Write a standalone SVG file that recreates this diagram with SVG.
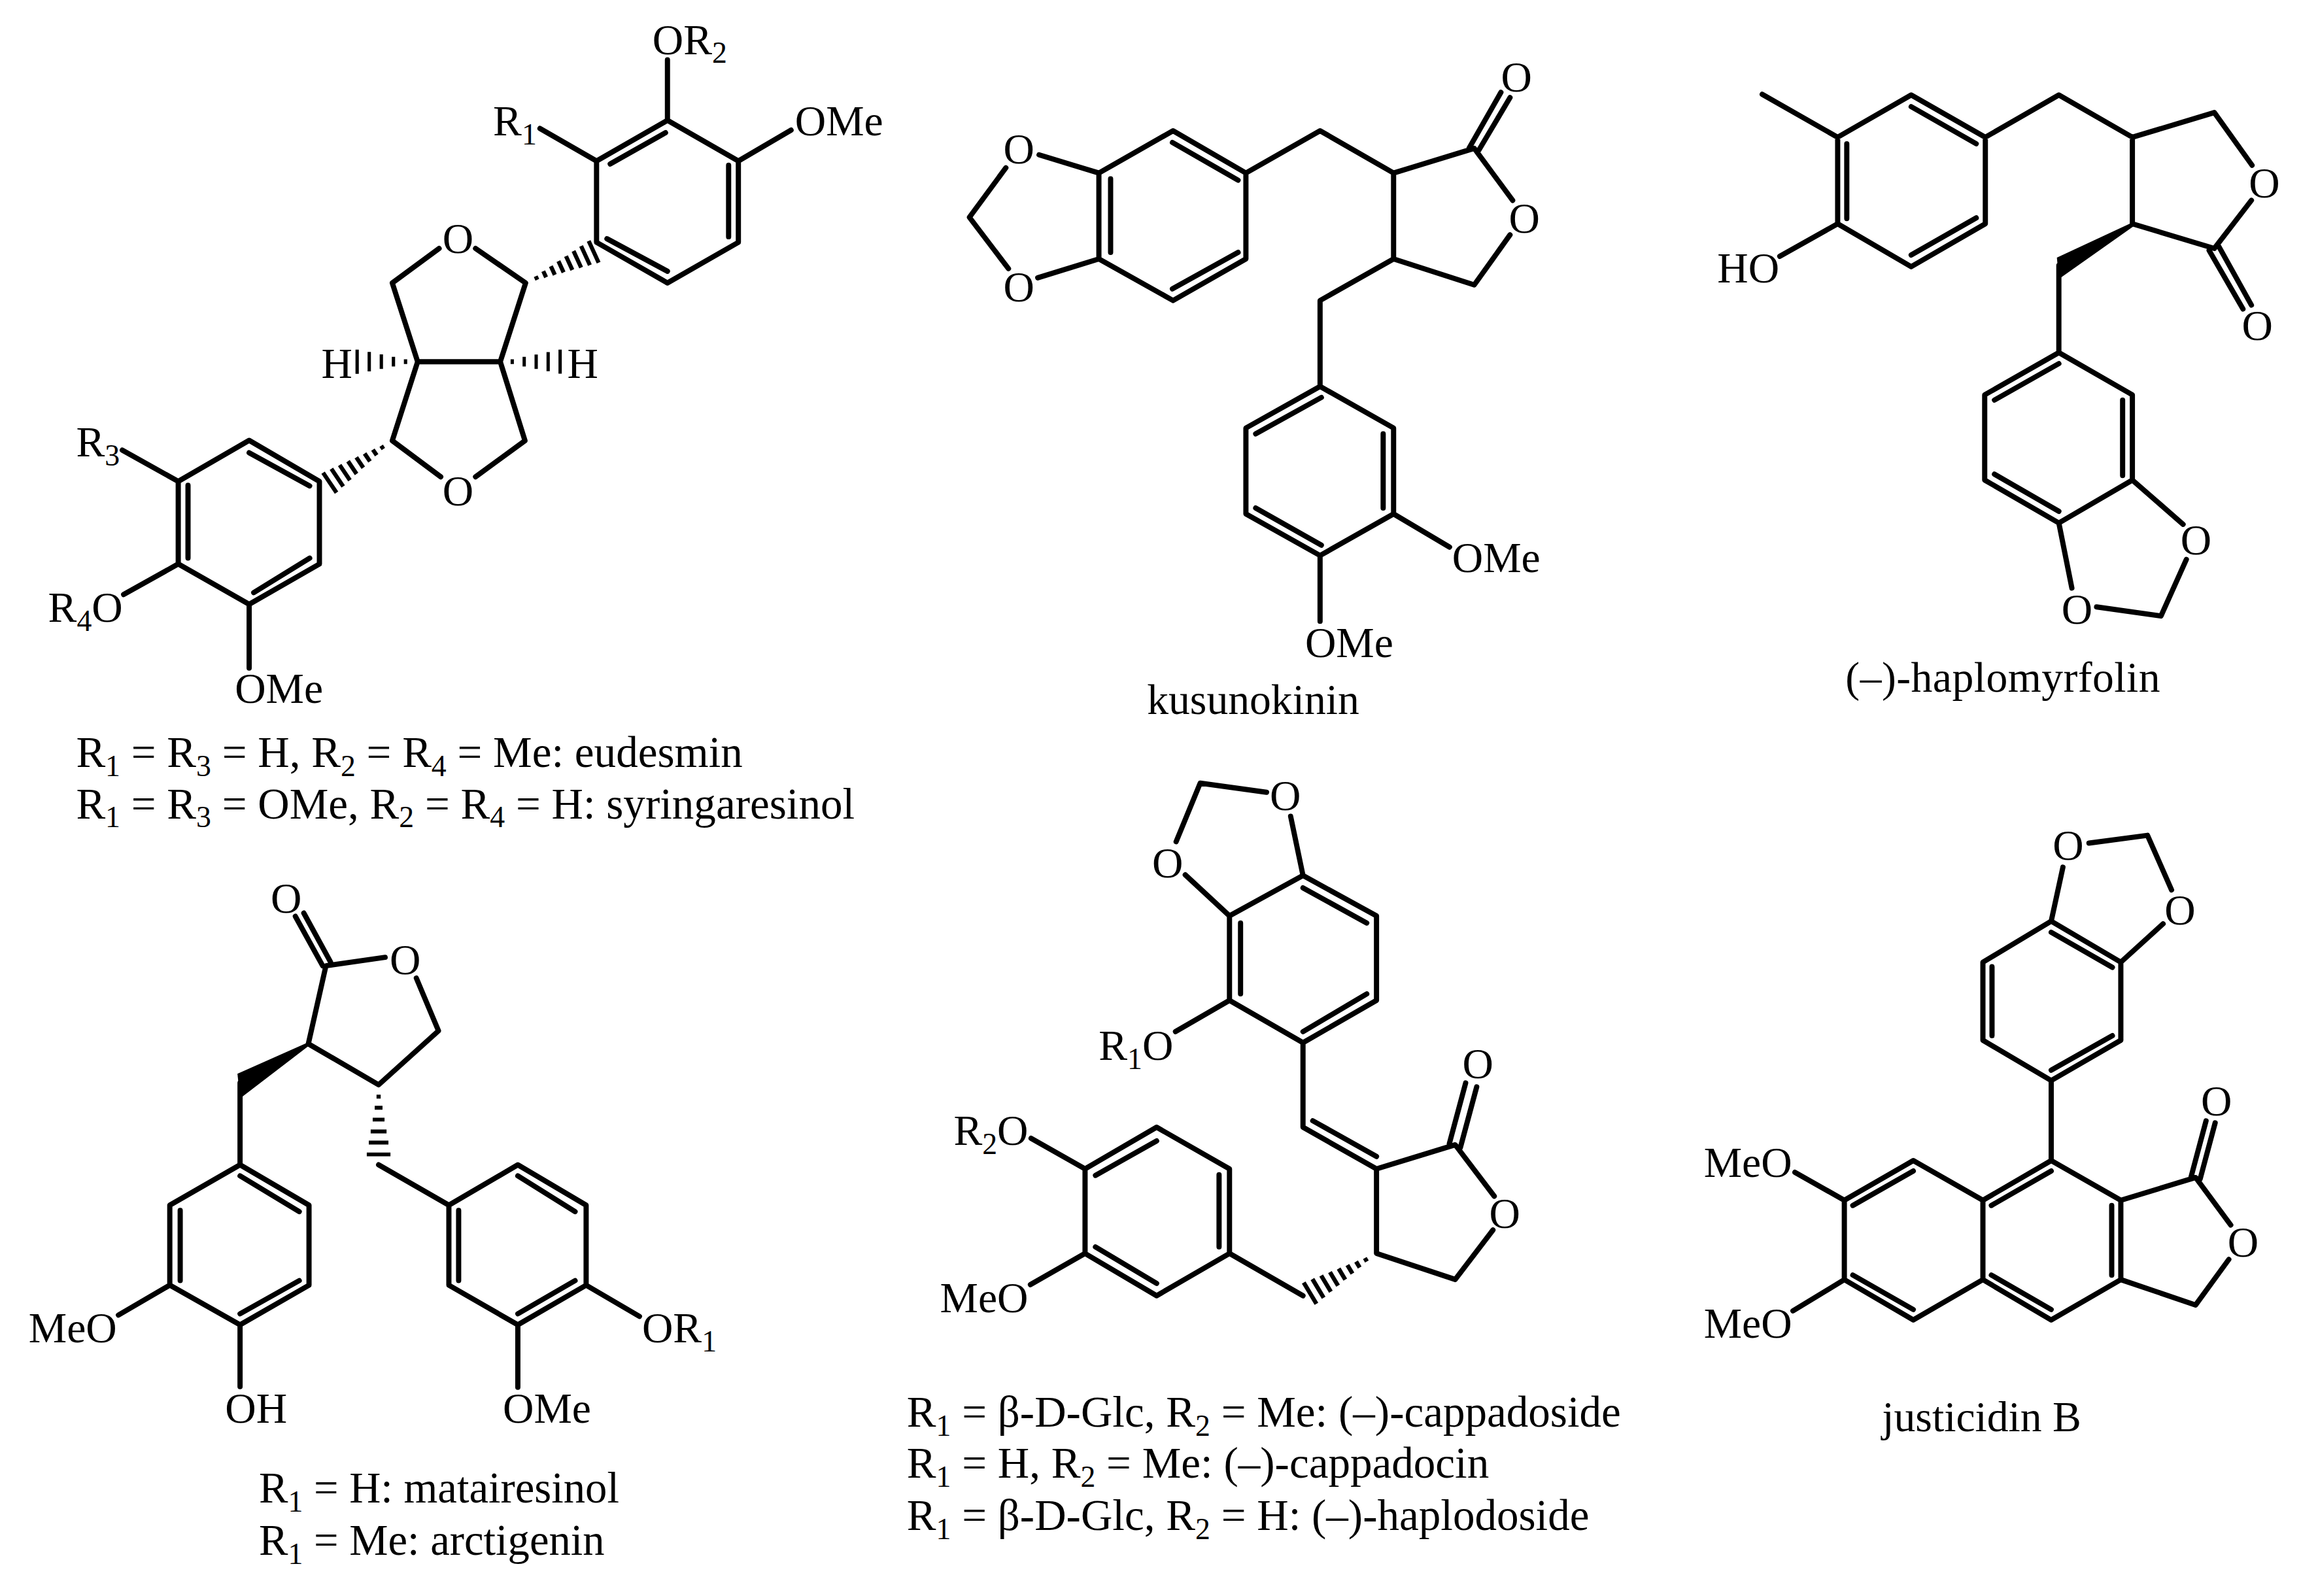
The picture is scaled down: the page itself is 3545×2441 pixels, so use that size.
<svg xmlns="http://www.w3.org/2000/svg" width="3545" height="2441" viewBox="0 0 3545 2441">
<style>
text{font-family:"Liberation Serif","Times New Roman",serif;font-size:66px;fill:#000}
.m{text-anchor:middle}
.c{font-size:67.4px}
.s{font-size:46px}
.t{letter-spacing:.45px}
.b{fill:none;stroke:#000;stroke-width:8;stroke-linecap:round;stroke-linejoin:round}
.h{fill:none;stroke:#000;stroke-width:5.5}
.w{fill:#000;stroke:none}
</style>
<defs>
<path id="hash8" class="h" d="M16 -2.6V2.6M28 -4.5V4.5M40 -6.4V6.4M52 -8.3V8.3M64 -10.2V10.2M76 -12.2V12.2M88 -14.1V14.1M100 -16V16"/>
<path id="hash6" class="h" d="M17 -3V3M33 -5.6V5.6M50 -8.5V8.5M67 -11.4V11.4M83 -14.1V14.1M100 -17V17"/>
<path id="hash5" class="h" d="M20 -4V4M40 -8V8M60 -12V12M80 -16V16M100 -20V20"/>
</defs>
<rect width="3545" height="2441" fill="#fff"/>

<g id="eudesmin-syringaresinol" transform="scale(.9949)">
<path class="b" d="M1026 185L917 247.5V372.5L1026 435L1135 372.5V247.5ZM1023 204L938 252M1120 254V364M933 367L1026 417M1026 185V92M1135 247.5L1216 200M917 247.5L830 197.5M731 382L808 435L769 556H642L603 435L675 382M642 556L603 677.5L677.5 733M769 556L807 677.5L731 733M491 740L383 677L274 740V867L383 929L491 867ZM383 696L476 747M289 746V858M390 911L476 858M274 740L188 692M274 867L190 914M383 929V1027"/>
<use href="#hash8" transform="translate(808 435) rotate(-24.6) scale(1.15)"/>
<use href="#hash8" transform="translate(603 677.5) rotate(146.1) scale(1.157)"/>
<use href="#hash5" transform="translate(642 556) rotate(180) scale(.93)"/>
<use href="#hash5" transform="translate(769 556) scale(.92)"/>
<text x="1003" y="83">OR<tspan class="s" dy="14">2</tspan></text>
<text x="758" y="208">R<tspan class="s" dy="14">1</tspan></text>
<text x="1222" y="208">OMe</text>
<text class="m" x="704" y="389">O</text>
<text class="m" x="704" y="777">O</text>
<text x="494" y="581">H</text>
<text x="872" y="581">H</text>
<text x="117" y="702">R<tspan class="s" dy="14">3</tspan></text>
<text x="74" y="956">R<tspan class="s" dy="14">4</tspan><tspan dy="-14">O</tspan></text>
<text x="361" y="1081">OMe</text>
<text class="c" x="117" y="1179">R<tspan class="s" dy="14">1</tspan><tspan dy="-14"> = R</tspan><tspan class="s" dy="14">3</tspan><tspan dy="-14"> = H, R</tspan><tspan class="s" dy="14">2</tspan><tspan dy="-14"> = R</tspan><tspan class="s" dy="14">4</tspan><tspan dy="-14"> = Me: eudesmin</tspan></text>
<text class="c" x="117" y="1258">R<tspan class="s" dy="14">1</tspan><tspan dy="-14"> = R</tspan><tspan class="s" dy="14">3</tspan><tspan dy="-14"> = OMe, R</tspan><tspan class="s" dy="14">2</tspan><tspan dy="-14"> = R</tspan><tspan class="s" dy="14">4</tspan><tspan dy="-14"> = H: syringaresinol</tspan></text>
</g>

<g id="kusunokinin" transform="translate(7.14 0) scale(.9949)">
<path class="b" d="M1539 258L1483 334L1543 413M1682 266L1796 201L1908 266V398L1796 462L1682 398ZM1590 238L1682 266M1588 427L1682 398M1700 275V388M1795 219L1896 277M1795 444L1896 388M1908 266L2022 201L2135 266V398M2135 266L2259 228L2318 308M2251 228L2300 142M2266 231L2314 150M2314 361L2259 438L2135 398L2022 462V594L1908 658V790L2022 854L2135 790V658L2022 594M2024 611L1923 667M2119 667V781M1923 781L2024 838M2135 790L2221 841M2022 854V955"/>
<text class="m" x="1559" y="251">O</text>
<text class="m" x="1559" y="463">O</text>
<text class="m" x="2324" y="141">O</text>
<text class="m" x="2336" y="358">O</text>
<text x="2225" y="880">OMe</text>
<text x="1999" y="1010">OMe</text>
<text x="1756" y="1098">kusunokinin</text>
</g>

<g id="haplomyrfolin" transform="translate(12.75 0) scale(.9949)">
<path class="b" d="M2696 145L2812 211M2812 211L2925 146L3039 211V344L2925 410L2812 344ZM2826 221V336M2925 164L3025 221M2925 392L3025 335M2812 344L2723 394M3039 211L3152 146L3265 211V344M3265 211L3391 173L3449 254M3448 308L3391 382L3265 344M3383 385L3435 475M3398 379L3448 469M3152 408V542L3038 607V738L3152 804L3265 738V607L3152 542M3152 559L3053 615M3250 615V731M3053 729L3152 786M3265 738L3343 806M3348 860L3309 947L3210 933M3172 904L3152 804"/>
<polygon class="w" points="3265,342 3268,347 3152,429 3149,396"/>
<text class="m" x="3468" y="304">O</text>
<text class="m" x="3457" y="523">O</text>
<text class="m" x="3363" y="852">O</text>
<text class="m" x="3180" y="959">O</text>
<text x="2627" y="434">HO</text>
<text class="t" x="2824" y="1063">(–)-haplomyrfolin</text>
</g>

<g id="matairesinol-arctigenin" transform="translate(0 6.63) scale(.9949)">
<path class="b" d="M454 1402L496 1478M467 1397L508 1472M474 1598L501 1478L592 1465M640 1497L674 1578L582 1661L474 1598M369 1658V1784M369 1784L261 1846V1969L369 2030L475 1969V1846ZM369 1801L460 1856M277 1854V1962M369 2013L460 1962M261 1969L182 2015M369 2030V2125M582 1784L690 1846L796 1784L901 1846V1969L796 2030L690 1969V1846M796 1801L884 1856M705 1854V1962M796 2013L884 1962M901 1969L983 2017M796 2030V2126"/>
<polygon class="w" points="473,1596 476,1600 369,1682 365,1644"/>
<use href="#hash6" transform="translate(582 1661) rotate(90) scale(1.07)"/>
<text class="m" x="440" y="1396">O</text>
<text class="m" x="623" y="1491">O</text>
<text x="44" y="2057">MeO</text>
<text x="346" y="2180">OH</text>
<text x="987" y="2057">OR<tspan class="s" dy="14">1</tspan></text>
<text x="773" y="2180">OMe</text>
<text x="398" y="2303" style="font-size:67px">R<tspan class="s" dy="14">1</tspan><tspan dy="-14"> = H: matairesinol</tspan></text>
<text x="398" y="2384" style="font-size:67px">R<tspan class="s" dy="14">1</tspan><tspan dy="-14"> = Me: arctigenin</tspan></text>
</g>

<g id="cappadoside-cappadocin-haplodoside" transform="translate(6.89 5.87) scale(.9949)">
<path class="b" d="M1940 1212L1838 1198L1801 1288M1977 1249L1996 1340M1815 1339L1883 1402M1996 1340L1883 1402V1532L1996 1597L2109 1532V1402ZM1996 1359L2094 1413M1900 1413V1522M1996 1580L2094 1522M1883 1532L1800 1580M1996 1597V1727L2109 1791M2011 1717L2109 1772M2109 1791L2230 1754L2290 1833M2109 1791V1921L2230 1961L2288 1885M2221 1752L2246 1659M2238 1758L2263 1665M1996 1986L1883 1921L1771 1986L1661 1921V1791L1771 1727L1883 1791V1921M1771 1967L1677 1911M1867 1800V1911M1677 1801L1771 1748M1661 1791L1578 1744M1661 1921L1577 1969"/>
<use href="#hash8" transform="translate(2109 1921) rotate(149.1) scale(1.19)"/>
<text class="m" x="1969" y="1239">O</text>
<text class="m" x="1788" y="1343">O</text>
<text class="m" x="2306" y="1882">O</text>
<text class="m" x="2265" y="1652">O</text>
<text x="1682" y="1623">R<tspan class="s" dy="14">1</tspan><tspan dy="-14">O</tspan></text>
<text x="1459" y="1754">R<tspan class="s" dy="14">2</tspan><tspan dy="-14">O</tspan></text>
<text x="1438" y="2011">MeO</text>
<text class="c" x="1387" y="2187">R<tspan class="s" dy="14">1</tspan><tspan dy="-14"> = β-D-Glc, R</tspan><tspan class="s" dy="14">2</tspan><tspan dy="-14"> = Me: (–)-cappadoside</tspan></text>
<text class="c" x="1387" y="2266">R<tspan class="s" dy="14">1</tspan><tspan dy="-14"> = H, R</tspan><tspan class="s" dy="14">2</tspan><tspan dy="-14"> = Me: (–)-cappadocin</tspan></text>
<text class="c" x="1387" y="2346">R<tspan class="s" dy="14">1</tspan><tspan dy="-14"> = β-D-Glc, R</tspan><tspan class="s" dy="14">2</tspan><tspan dy="-14"> = H: (–)-haplodoside</tspan></text>
</g>

<g id="justicidin-b" transform="translate(13 6.12) scale(.9949)">
<path class="b" d="M3198 1290L3288 1278L3325 1362M3158 1327L3140 1410M3312 1414L3247 1473M3140 1410L3247 1473V1593L3140 1655L3035 1593V1473ZM3140 1427L3234 1481M3049 1480V1586M3140 1639L3234 1586M3140 1655V1778M3140 1778L3247 1839V1961L3140 2023L3035 1961V1839ZM3035 1839L2928 1778L2822 1839V1961L2928 2023L3035 1961M3140 1794L3048 1847M3233 1847V1954M3048 1954L3140 2007M2928 1794L2835 1847M2835 1954L2928 2007M3247 1839L3362 1804L3416 1877M3413 1930L3362 2000L3247 1961M3355 1803L3378 1717M3369 1806L3392 1720M2822 1839L2746 1796M2822 1961L2743 2009"/>
<text class="m" x="3166" y="1316">O</text>
<text class="m" x="3338" y="1415">O</text>
<text class="m" x="3435" y="1926">O</text>
<text class="m" x="3394" y="1709">O</text>
<text x="2606" y="1803">MeO</text>
<text x="2606" y="2050">MeO</text>
<text x="2880" y="2194">justicidin B</text>
</g>
</svg>
